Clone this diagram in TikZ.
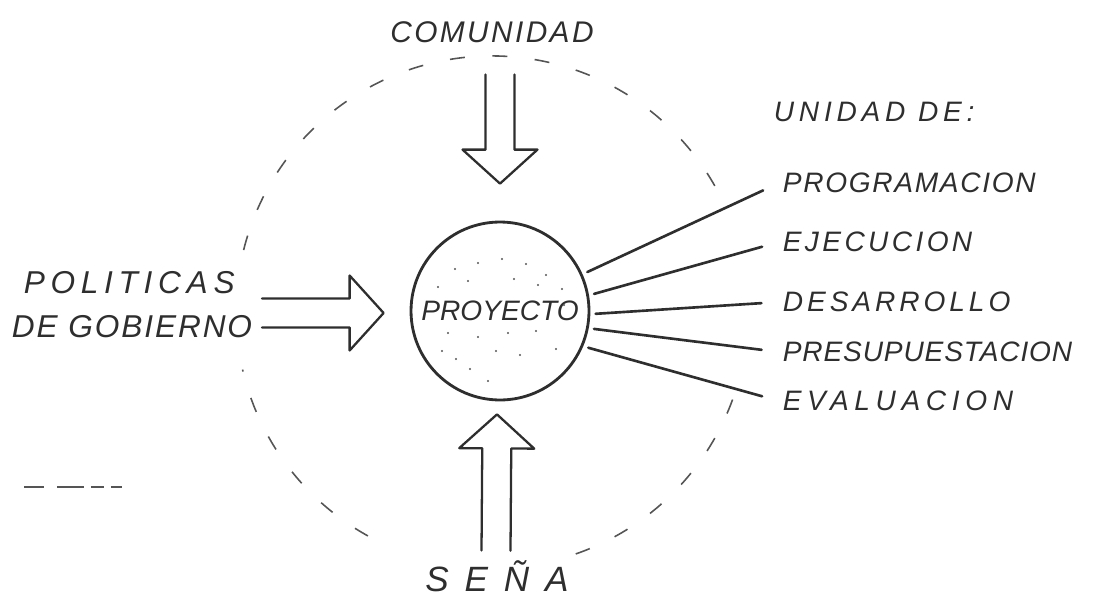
\documentclass[tikz,border=0pt]{standalone}
\usepackage{fontspec}
\usepackage{tikz}
\usetikzlibrary{calc}
\newfontfamily\mano{Liberation Sans}
\definecolor{lapiz}{HTML}{2E2E2E}
\definecolor{lapizclaro}{HTML}{555555}
% flecha hueca de #1 hasta la punta #2
\newcommand{\flechahueca}[2]{%
  \coordinate (fh) at ($(#2)!0.68cm!(#1)$);
  \draw[lapiz,line width=1.3pt,line join=round,line cap=round]
    ($(#1)!0.29cm!90:(#2)$) -- ($(fh)!0.29cm!-90:(#1)$)
    -- ($(fh)!0.75cm!-90:(#1)$) -- (#2)
    -- ($(fh)!0.75cm!90:(#1)$) -- ($(fh)!0.29cm!90:(#1)$)
    -- ($(#1)!0.29cm!-90:(#2)$);
}

\begin{document}
\begin{tikzpicture}[x=0.02cm,y=-0.02cm,
    trazo/.style={lapiz,line width=1.5pt,line cap=round},
    punteado/.style={lapizclaro,line width=0.9pt,dash pattern=on 0.3cm off 0.55cm},
    rotulo/.style={text=lapiz,inner sep=2pt,
      font=\mano\itshape\fontsize{16}{20}\selectfont\addfontfeature{LetterSpace=#1}},
    rotulo/.default=6]
  \useasboundingbox (0,0) rectangle (1097,598);
  % circulo exterior punteado, con huecos
  \coordinate (orbita) at (492,312);
  \draw[punteado] ($(orbita)+(-166:256)$) arc[start angle=-166,end angle=-28,radius=256];
  \draw[punteado] ($(orbita)+(20:256)$) arc[start angle=20,end angle=77,radius=256];
  \draw[punteado] ($(orbita)+(119:256)$) arc[start angle=119,end angle=167,radius=256];
  % proyecto
  \node[rotulo=0,draw=lapiz,line width=1.6pt,circle,minimum size=3.56cm,inner sep=0pt]
    (proyecto) at (500,311) {PROYECTO};
  \foreach \dx/\dy in {-45/-42,-22/-48,2/-52,26/-47,46/-36,62/-22,-62/-24,
      -32/-30,14/-32,38/-26,-52/22,-22/26,8/22,36/20,-44/48,
      -30/58,-12/70,-58/40,56/38,20/44,-4/40,64/-6}
    \fill[lapizclaro] ($(proyecto)+(\dx,\dy)$) circle (0.6pt);
  % rotulos
  \node[rotulo=8,font=\mano\itshape\fontsize{17}{20}\selectfont\addfontfeature{LetterSpace=8}]
    (comunidad) at (492,32) {COMUNIDAD};
  \node[rotulo,align=left,anchor=west,font=\mano\itshape\fontsize{18}{25}\selectfont\addfontfeature{LetterSpace=6}]
    (politicas) at (8,305) {\hspace{0.24cm}{\addfontfeature{LetterSpace=18}POLITICAS}\\DE GOBIERNO};
  \node[rotulo,font=\mano\itshape\fontsize{20}{22}\selectfont\addfontfeature{LetterSpace=45}]
    (sena) at (497,576) {SEÑA};
  \node[rotulo=17,anchor=west] (unidad) at (770,112) {UNIDAD DE:};
  \node[rotulo,anchor=west] (programacion) at (779,183) {PROGRAMACION};
  \node[rotulo=12,anchor=west] (ejecucion) at (779,242) {EJECUCION};
  \node[rotulo=14,anchor=west] (desarrollo) at (779,302) {DESARROLLO};
  \node[rotulo=3,anchor=west] (presupuestacion) at (779,352) {PRESUPUESTACION};
  \node[rotulo=20,anchor=west] (evaluacion) at (779,401) {EVALUACION};
  % lineas hacia las unidades
  \foreach \ang/\dest in {24/programacion,10/ejecucion,-2/desarrollo,
      -11/presupuestacion,-23/evaluacion}
    \draw[trazo,shorten <=3pt,shorten >=10pt] (proyecto.\ang) -- (\dest.west);
  % flechas huecas
  \coordinate (com1) at ($(comunidad.south -| proyecto.north)+(0,28)$);
  \coordinate (com2) at ($(proyecto.north)+(0,-37)$);
  \flechahueca{com1}{com2}
  \coordinate (pol1) at ($(politicas.east |- proyecto.west)+(6,2)$);
  \coordinate (pol2) at ($(proyecto.west)+(-26,2)$);
  \flechahueca{pol1}{pol2}
  \coordinate (sen1) at ($(sena.north -| proyecto.south)+(-4,-6)$);
  \coordinate (sen2) at ($(proyecto.south)+(-3,13)$);
  \flechahueca{sen1}{sen2}
  % trazo suelto abajo a la izquierda
  \draw[punteado,dash pattern=on 0.4cm off 0.26cm on 0.54cm off 0.14cm on 0.26cm off 0.14cm on 0.22cm off 1cm]
    (24,487) -- (126,487);
\end{tikzpicture}
\end{document}
